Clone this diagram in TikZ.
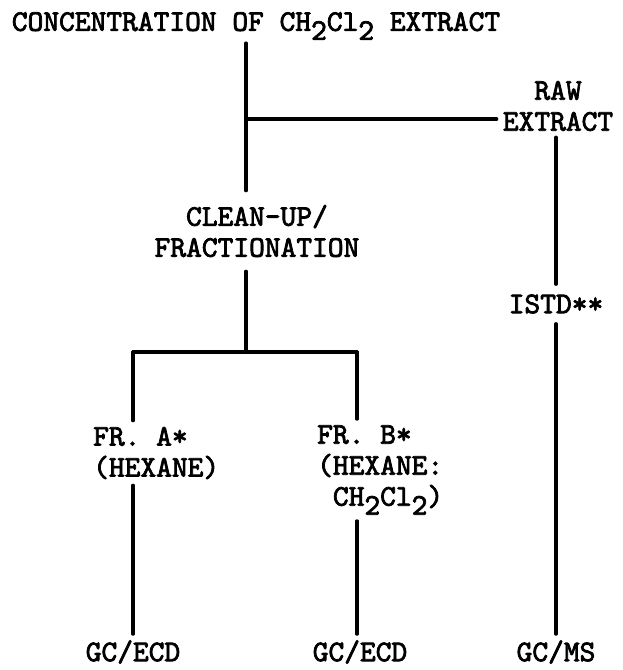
\documentclass[tikz,border=0pt]{standalone}
\usepackage{fontspec}
\newfontfamily\darktt[FakeBold=2.5]{lmmono10-regular.otf}
\usetikzlibrary{positioning}
\newcommand{\lowr}[1]{\raisebox{-0.3em}{#1}}
\tikzset{
  txt/.style={font=\darktt\fontsize{30}{31}\selectfont,
              inner sep=6pt, align=center},
  link/.style={line width=3.2pt, line cap=round, draw=black}
}

\begin{document}
\begin{tikzpicture}[x=1pt,y=-1pt]
  \useasboundingbox (0,0) rectangle (622,670);
  % text blocks
  \node[txt, inner sep=3pt] (conc) at (256,26) {CONCENTRATION OF CH\lowr{2}Cl\lowr{2} EXTRACT};
  \node[txt] (raw) at (558,106) {RAW\\EXTRACT};
  \node[txt, inner sep=14pt] (clean) at (257,231) {CLEAN-UP/\\FRACTIONATION};
  \node[txt, inner sep=10pt] (istd) at (556,304) {ISTD**};
  \node[txt, align=left, anchor=west, inner xsep=0pt] (fra) at (93,453) {FR. A*\\(HEXANE)};
  \node[txt, align=left, anchor=west, inner xsep=0pt] (frb) at (317,470) {FR. B*\\(HEXANE:\\~CH\lowr{2}Cl\lowr{2})};
  \node[txt] (gca) at (133,652) {GC/ECD};
  \node[txt] (gcb) at (360,652) {GC/ECD};
  \node[txt] (gcms) at (556,652) {GC/MS};
  % junctions
  \coordinate (junc) at (246,119);
  \coordinate (fork) at (246,352);
  \coordinate (forkA) at (133,352);
  \coordinate (forkB) at (357,352);
  % connectors
  \draw[link] (conc.south -| junc) -- (clean.north -| junc);
  \draw[link] (junc) -- (raw.west |- junc);
  \draw[link] (raw.south -| istd) -- (istd.north);
  \draw[link] (istd.south) -- (istd.south |- gcms.north);
  \draw[link] (clean.south -| fork) -- (fork);
  \draw[link] (forkA) -- (forkB);
  \draw[link] (forkA) -- (forkA |- fra.north);
  \draw[link] (forkB) -- (forkB |- frb.north);
  \draw[link] (fra.south -| forkA) -- (forkA |- gca.north);
  \draw[link] (frb.south -| forkB) -- (forkB |- gcb.north);
\end{tikzpicture}
\end{document}
